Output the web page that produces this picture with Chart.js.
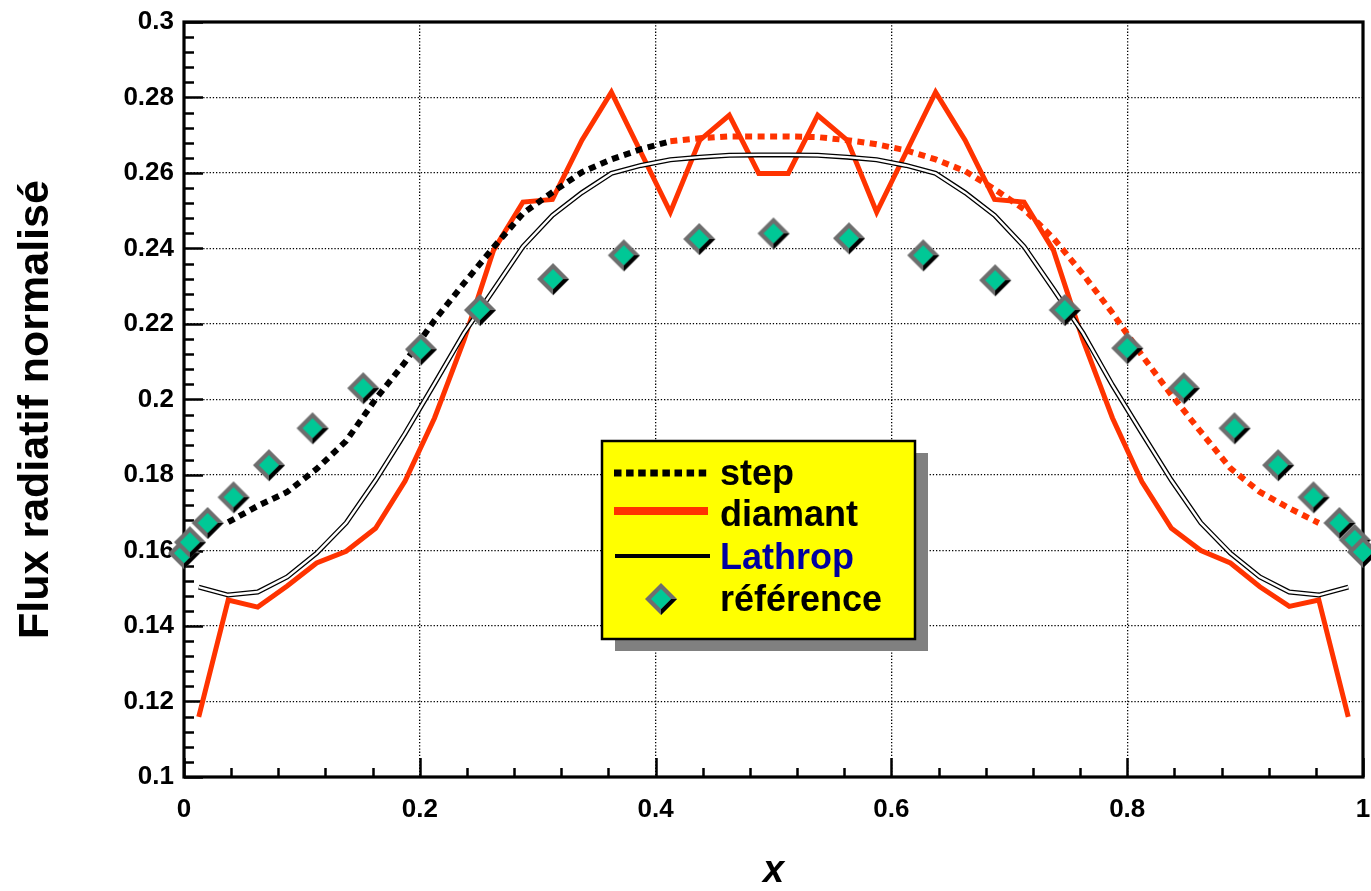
<!DOCTYPE html>
<html>
<head>
<meta charset="utf-8">
<title>Flux radiatif normalisé</title>
<script src="https://cdn.jsdelivr.net/npm/chart.js@4.4.1/dist/chart.umd.min.js"></script>
<style>
  html, body { margin: 0; padding: 0; background: #fff; }
  canvas { display: block; }
</style>
</head>
<body>
<canvas id="fluxChart" width="1371" height="891"></canvas>
<script>
// cell centres of the 40-cell mesh
const xCells = [
  0.0125, 0.0375, 0.0625, 0.0875, 0.1125, 0.1375, 0.1625, 0.1875, 0.2125, 0.2375,
  0.2625, 0.2875, 0.3125, 0.3375, 0.3625, 0.3875, 0.4125, 0.4375, 0.4625, 0.4875,
  0.5125, 0.5375, 0.5625, 0.5875, 0.6125, 0.6375, 0.6625, 0.6875, 0.7125, 0.7375,
  0.7625, 0.7875, 0.8125, 0.8375, 0.8625, 0.8875, 0.9125, 0.9375, 0.9625, 0.9875
];

const diamantFlux = [
  0.1159, 0.1469, 0.1450, 0.1506, 0.1567, 0.1598, 0.1659, 0.1784, 0.1951, 0.2157,
  0.2395, 0.2523, 0.2530, 0.2687, 0.2814, 0.2655, 0.2496, 0.2687, 0.2753, 0.2599,
  0.2599, 0.2753, 0.2687, 0.2496, 0.2655, 0.2814, 0.2687, 0.2530, 0.2523, 0.2395,
  0.2157, 0.1951, 0.1782, 0.1659, 0.1600, 0.1567, 0.1504, 0.1452, 0.1469, 0.1159
];

const lathropFlux = [
  0.1503, 0.1482, 0.1490, 0.1530, 0.1593, 0.1673, 0.1786, 0.1910, 0.2042, 0.2176,
  0.2290, 0.2405, 0.2488, 0.2548, 0.2599, 0.2620, 0.2635, 0.2642, 0.2647, 0.2648,
  0.2648, 0.2647, 0.2642, 0.2635, 0.2620, 0.2599, 0.2548, 0.2488, 0.2405, 0.2292,
  0.2176, 0.2038, 0.1911, 0.1786, 0.1673, 0.1593, 0.1530, 0.1490, 0.1482, 0.1503
];

const stepFlux = [
  null,   0.1675, 0.1718, 0.1755, 0.1816, 0.1890, 0.2001, 0.2099, 0.2210, 0.2308,
  0.2403, 0.2493, 0.2549, 0.2602, 0.2636, 0.2663, 0.2684, 0.2692, 0.2697, 0.2697,
  0.2697, 0.2695, 0.2687, 0.2676, 0.2660, 0.2636, 0.2605, 0.2557, 0.2504, 0.2427,
  0.2332, 0.2229, 0.2117, 0.2012, 0.1914, 0.1818, 0.1755, 0.1712, 0.1673, null
];

// reference solution, on its own abscissae
const refX = [
  0, 0.005, 0.020, 0.042, 0.072, 0.109, 0.152, 0.201, 0.251, 0.313, 0.373, 0.437, 0.500,
  0.564, 0.627, 0.688, 0.747, 0.800, 0.848, 0.891, 0.928, 0.958, 0.980, 0.993, 1.0
];
const refFlux = [
  0.1593, 0.1622, 0.1673, 0.1741, 0.1826, 0.1924, 0.2030, 0.2133, 0.2237, 0.2319, 0.2382, 0.2425, 0.2440,
  0.2427, 0.2382, 0.2316, 0.2237, 0.2136, 0.2030, 0.1924, 0.1826, 0.1741, 0.1673, 0.1628, 0.1596
];

const xTicks = [0, 0.2, 0.4, 0.6, 0.8, 1];
const yTicks = [0.1, 0.12, 0.14, 0.16, 0.18, 0.2, 0.22, 0.24, 0.26, 0.28, 0.3];

const RED = "#ff3300";
const GREEN = "#00c896";
const FONT = "'Liberation Sans', Arial, Helvetica, sans-serif";

Chart.defaults.font.family = FONT;
Chart.defaults.color = "#000";

const pairs = (xs, ys) => xs.map((x, i) => ({ x: x, y: ys[i] }));

// bevelled diamond used for the reference points
function makeDiamond() {
  const s = 36, c = 18, R = 16, r = 10;
  const cv = document.createElement("canvas");
  cv.width = s; cv.height = s;
  const g = cv.getContext("2d");
  const dia = (cx, cy, h) => {
    g.beginPath();
    g.moveTo(cx, cy - h); g.lineTo(cx + h, cy); g.lineTo(cx, cy + h); g.lineTo(cx - h, cy);
    g.closePath();
  };
  g.fillStyle = "#6e6e6e";
  dia(c, c, R); g.fill();
  g.fillStyle = "#000";
  g.beginPath();
  g.moveTo(c + R, c); g.lineTo(c, c + R); g.lineTo(c, c + r); g.lineTo(c + r, c);
  g.closePath(); g.fill();
  g.fillStyle = GREEN;
  dia(c, c, r); g.fill();
  return cv;
}
const diamondImg = makeDiamond();

// frame with inward major/minor ticks on the left and bottom sides
const frameTicks = {
  id: "frameTicks",
  beforeDatasetsDraw(chart) {
    const { ctx, chartArea: a, scales: { x, y } } = chart;
    ctx.save();
    ctx.strokeStyle = "#000";
    ctx.lineWidth = 2.5;
    ctx.beginPath();
    for (let i = 0; i <= 50; i++) {
      const py = Math.round(y.getPixelForValue(0.1 + i * 0.004)) + 0.5;
      const len = i % 5 === 0 ? 19 : 10;
      ctx.moveTo(a.left, py); ctx.lineTo(a.left + len, py);
    }
    for (let i = 0; i <= 25; i++) {
      const px = Math.round(x.getPixelForValue(i * 0.04)) + 0.5;
      const len = i % 5 === 0 ? 19 : 9;
      ctx.moveTo(px, a.bottom); ctx.lineTo(px, a.bottom - len);
    }
    ctx.stroke();
    ctx.lineWidth = 3.2;
    ctx.strokeRect(a.left, a.top, a.right - a.left, a.bottom - a.top);
    ctx.restore();
  }
};

// vertical axis title, sitting a little below the middle of the frame
const yTitle = {
  id: "yTitle",
  afterDraw(chart) {
    const { ctx, chartArea: a } = chart;
    ctx.save();
    ctx.translate(36, (a.top + a.bottom) / 2 + 10);
    ctx.rotate(-Math.PI / 2);
    ctx.font = "bold 43px " + FONT;
    ctx.fillStyle = "#000";
    ctx.textAlign = "center";
    ctx.textBaseline = "middle";
    ctx.fillText("Flux radiatif normalisé", 0, 0);
    ctx.restore();
  }
};

// yellow legend box with drop shadow
const boxLegend = {
  id: "boxLegend",
  afterDraw(chart) {
    const { ctx } = chart;
    const x0 = 602, y0 = 441, w = 313, h = 198;
    ctx.save();
    ctx.fillStyle = "#808080";
    ctx.fillRect(x0 + 13, y0 + 12, w, h);
    ctx.fillStyle = "#ffff00";
    ctx.fillRect(x0, y0, w, h);
    ctx.lineWidth = 2.5;
    ctx.strokeStyle = "#000";
    ctx.strokeRect(x0, y0, w, h);

    const sx0 = x0 + 12, sx1 = x0 + 106, tx = x0 + 118;
    const rows = [
      { label: "step", color: "#000", y: 473, draw: (yy) => {
          ctx.strokeStyle = "#000"; ctx.lineWidth = 7; ctx.setLineDash([7.5, 4.6]);
          ctx.beginPath(); ctx.moveTo(sx0, yy); ctx.lineTo(sx1, yy); ctx.stroke();
          ctx.setLineDash([]);
        } },
      { label: "diamant", color: "#000", y: 514, draw: (yy) => {
          ctx.strokeStyle = RED; ctx.lineWidth = 8;
          ctx.beginPath(); ctx.moveTo(sx0, yy - 3); ctx.lineTo(sx1, yy - 3); ctx.stroke();
        } },
      { label: "Lathrop", color: "#0000a0", y: 557, draw: (yy) => {
          ctx.strokeStyle = "#000"; ctx.lineWidth = 4;
          ctx.beginPath(); ctx.moveTo(sx0 + 1, yy - 1); ctx.lineTo(sx1 + 2, yy - 1); ctx.stroke();
        } },
      { label: "référence", color: "#000", y: 599, draw: (yy) => {
          ctx.drawImage(diamondImg, x0 + 59 - diamondImg.width / 2, yy - diamondImg.height / 2);
        } }
    ];
    ctx.font = "bold 36px " + FONT;
    ctx.textBaseline = "middle";
    ctx.textAlign = "left";
    rows.forEach(r => {
      r.draw(r.y);
      ctx.fillStyle = r.color;
      ctx.fillText(r.label, tx, r.y + 2);
    });
    ctx.restore();
  }
};

const tickFmt = v => String(+v.toFixed(2));

// keep the plot frame at fixed edges, whatever the label overhang
const noOverhang = s => {
  s.paddingLeft = 0; s.paddingRight = 0; s.paddingTop = 0; s.paddingBottom = 0;
};

new Chart(document.getElementById("fluxChart"), {
  type: "line",
  data: {
    datasets: [
      {
        label: "référence",
        data: pairs(refX, refFlux),
        showLine: false,
        pointStyle: diamondImg,
        pointRadius: 16,
        clip: false,
        order: 0
      },
      {
        label: "Lathrop (core)",
        data: pairs(xCells, lathropFlux),
        borderColor: "#fff",
        borderWidth: 2.4,
        pointRadius: 0,
        tension: 0,
        order: 1
      },
      {
        label: "Lathrop",
        data: pairs(xCells, lathropFlux),
        borderColor: "#000",
        borderWidth: 5,
        pointRadius: 0,
        tension: 0,
        order: 2
      },
      {
        label: "step",
        data: pairs(xCells, stepFlux),
        borderColor: "#000",
        borderWidth: 6,
        borderDash: [7, 5.5],
        pointRadius: 0,
        tension: 0,
        segment: {
          borderColor: c => (c.p0.parsed.x > 0.4 ? RED : "#000")
        },
        order: 3
      },
      {
        label: "diamant",
        data: pairs(xCells, diamantFlux),
        borderColor: RED,
        borderWidth: 5,
        pointRadius: 0,
        tension: 0,
        order: 4
      }
    ]
  },
  options: {
    responsive: false,
    animation: false,
    layout: { autoPadding: false, padding: { top: 22, right: 8, left: 0, bottom: 0 } },
    plugins: {
      legend: { display: false },
      tooltip: { enabled: false }
    },
    scales: {
      x: {
        type: "linear",
        min: 0,
        max: 1,
        afterBuildTicks: s => { s.ticks = xTicks.map(v => ({ value: v })); },
        afterFit: s => { s.height = 114; noOverhang(s); },
        grid: { color: "#000", lineWidth: 1.3, drawTicks: false },
        border: { display: false, dash: [1.3, 1.9] },
        ticks: {
          padding: 17,
          maxRotation: 0,
          font: { size: 26, weight: "bold" },
          callback: tickFmt
        },
        title: {
          display: true,
          text: "x",
          padding: { top: 0, bottom: 0 },
          font: { size: 38, weight: "bold", style: "italic", lineHeight: 1 }
        }
      },
      y: {
        type: "linear",
        min: 0.1,
        max: 0.3,
        afterBuildTicks: s => { s.ticks = yTicks.map(v => ({ value: v })); },
        afterFit: s => { s.width = 184; noOverhang(s); },
        grid: { color: "#000", lineWidth: 1.3, drawTicks: false },
        border: { display: false, dash: [1.3, 1.9] },
        ticks: {
          padding: 10,
          font: { size: 26, weight: "bold" },
          callback: tickFmt
        },
        title: { display: false }
      }
    }
  },
  plugins: [frameTicks, yTitle, boxLegend]
});
</script>
</body>
</html>
